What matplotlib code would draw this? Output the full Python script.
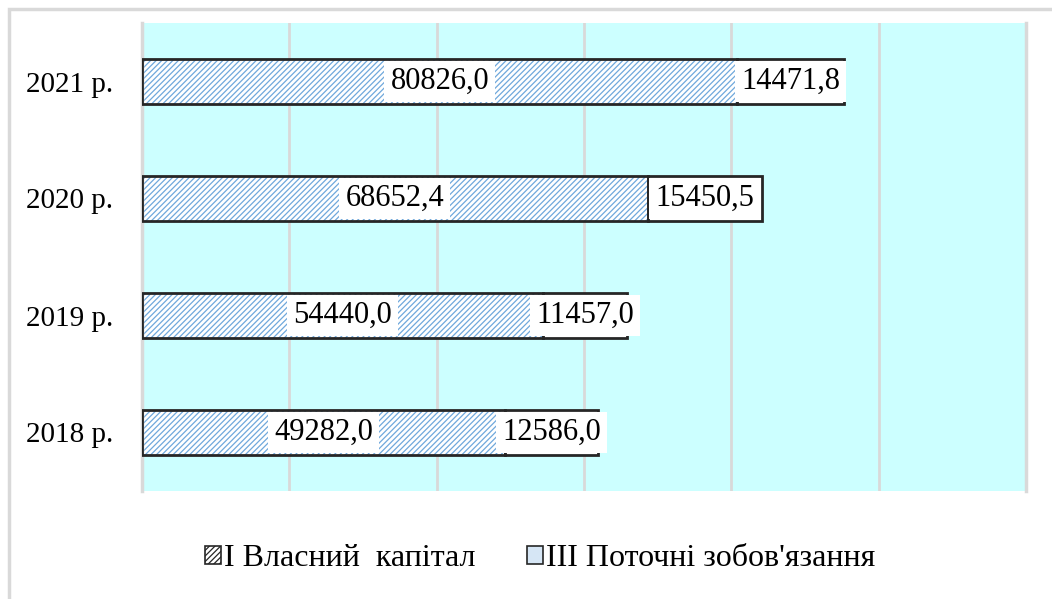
import matplotlib
matplotlib.use("Agg")
import matplotlib.pyplot as plt
from matplotlib.patches import Rectangle, Patch
import numpy as np

categories = ["2018 р.", "2019 р.", "2020 р.", "2021 р."]
equity = [49282.0, 54440.0, 68652.4, 80826.0]
liabilities = [12586.0, 11457.0, 15450.5, 14471.8]
series_names = ["І Власний  капітал", "ІІІ Поточні зобов'язання"]

plt.rcParams['font.family'] = ['Liberation Serif', 'DejaVu Serif']
plt.rcParams['hatch.linewidth'] = 0.9

W, H = 1052, 599
fig = plt.figure(figsize=(W / 100, H / 100), dpi=100)
fig.patch.set_facecolor('white')

# chart border
fig.add_artist(Rectangle((9 / W, -0.05), 1.2, 1 - 9 / H + 0.05, transform=fig.transFigure,
                         fill=False, edgecolor='#d9d9d9', linewidth=2.5))

left, right, top, bottom = 142, 1026, 23, 491
ax = fig.add_axes([left / W, 1 - bottom / H, (right - left) / W, (bottom - top) / H])
ax.set_facecolor('#ccffff')

y = np.arange(len(categories))
h = 0.39
hatch_blue = '#6fa8dc'

# hatched first series
ax.barh(y, equity, height=h, color='white', edgecolor=hatch_blue, hatch='//////', linewidth=0, zorder=2)
ax.barh(y, equity, height=h, fill=False, edgecolor='#262626', linewidth=2.0, zorder=3)
# second series
ax.barh(y, liabilities, left=equity, height=h, color='white', edgecolor='#262626', linewidth=2.0, zorder=3)

for yi, e, l in zip(y, equity, liabilities):
    for xc, v in ((e / 2, e), (e + l / 2, l)):
        ax.text(xc, yi, f"{v:.1f}".replace('.', ','), ha='center', va='center', fontsize=22,
                color='black', zorder=5,
                bbox=dict(boxstyle='square,pad=0.2', facecolor='white', edgecolor='none'))

ax.set_xlim(0, 120000)
ax.set_ylim(-0.5, 3.5)
ax.set_xticks(np.arange(0, 120001, 20000))
ax.xaxis.grid(True, color='#d9d9d9', linewidth=2.0)
ax.set_axisbelow(True)
ax.tick_params(axis='x', length=0, labelbottom=False)
ax.tick_params(axis='y', length=0, pad=21)
ax.set_yticks(y)
ax.set_yticklabels(categories, fontsize=21)
for s in ('top', 'bottom'):
    ax.spines[s].set_visible(False)
ax.spines['left'].set_color('#d9d9d9')
ax.spines['left'].set_linewidth(2.5)
ax.spines['right'].set_color('#d9d9d9')
ax.spines['right'].set_linewidth(2.5)

handles = [Patch(facecolor='white', edgecolor='#262626', hatch='//////', linewidth=1.2),
           Patch(facecolor='#d6e6f5', edgecolor='#262626', linewidth=1.2)]
fig.legend(handles, series_names, loc='center', bbox_to_anchor=(540 / W, 1 - 559 / H),
           ncol=2, frameon=False, fontsize=23, handlelength=0.5, handleheight=0.5,
           handletextpad=0.1, columnspacing=1.6)

fig.savefig('out.png', dpi=100, facecolor='white')
